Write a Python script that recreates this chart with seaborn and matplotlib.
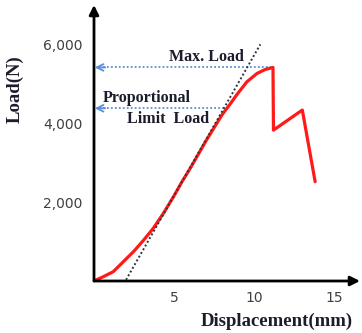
import numpy as np
import pandas as pd
import matplotlib
matplotlib.use("Agg")
import matplotlib.pyplot as plt
import seaborn as sns

# Load-displacement curve
DISPLACEMENT = [0.0, 0.58, 1.2, 1.83, 2.46, 3.08, 3.7, 4.33, 4.96, 5.5, 6.0, 7.0, 8.0, 8.5,
                8.92, 9.54, 10.17, 10.69, 11.17, 11.2, 13.0, 13.8]
LOAD = [0, 109, 236, 490, 744, 1030, 1340, 1720, 2141, 2530, 2860, 3570, 4230, 4500,
        4740, 5062, 5275, 5377, 5428, 3835, 4345, 2525]

# Proportional (elastic) fit line end points
FIT_X = [2.0, 10.38]
FIT_Y = [30, 6015]

MAX_LOAD = 5428
MAX_X = 11.17
PROP_LOAD = 4390
PROP_X = 8.3

X_TICKS = [5, 10, 15]
Y_TICKS = [2000, 4000, 6000]
Y_TICK_LABELS = ["2,000", "4,000", "6,000"]

SERIF = ["Liberation Serif", "DejaVu Serif"]
TEXT_COLOR = "#1c1c2c"
BLUE = "#5b8fd8"


def main():
    sns.set_theme(style="white")
    plt.rcParams['font.family'] = ['DejaVu Sans']

    fig = plt.figure(figsize=(3.62, 3.33), dpi=100)
    ax = fig.add_axes([94 / 362, 52 / 333, 266 / 362, 276 / 333])
    ax.set_xlim(0, 16.6)
    ax.set_ylim(0, 7015)

    df = pd.DataFrame({"Displacement": DISPLACEMENT, "Load": LOAD})
    sns.lineplot(data=df, x="Displacement", y="Load", sort=False, estimator=None,
                 color="#ff1a1a", linewidth=2.3, ax=ax, zorder=3)
    ax.plot(FIT_X, FIT_Y, color="#333333", linestyle=(0, (1, 1.2)), linewidth=1.4, zorder=4)

    # blue dotted guide arrows to the load axis
    for x_end, y in [(MAX_X, MAX_LOAD), (PROP_X, PROP_LOAD)]:
        ax.plot([0.3, x_end], [y, y], color=BLUE, linestyle=(0, (1, 1.2)), linewidth=1.3, zorder=2)
        ax.annotate("", xy=(0.05, y), xytext=(0.7, y),
                    arrowprops=dict(arrowstyle="->", color=BLUE, lw=1.3,
                                    mutation_scale=12, shrinkA=0, shrinkB=0))

    ax.text(7.0, 5690, "Max. Load", family=SERIF, fontweight="bold", fontsize=11.5,
            color=TEXT_COLOR, ha="center", va="center")
    ax.text(3.3, 4660, "Proportional", family=SERIF, fontweight="bold", fontsize=11.5,
            color=TEXT_COLOR, ha="center", va="center")
    ax.text(4.6, 4130, "Limit  Load", family=SERIF, fontweight="bold", fontsize=11.5,
            color=TEXT_COLOR, ha="center", va="center")

    # axes with arrow heads
    for s in ax.spines.values():
        s.set_visible(False)
    ax.annotate("", xy=(1.0, 0), xytext=(0, 0), xycoords="axes fraction",
                arrowprops=dict(arrowstyle="-|>", color="black", lw=2,
                                mutation_scale=14, shrinkA=0, shrinkB=0))
    ax.annotate("", xy=(0, 1.0), xytext=(0, 0), xycoords="axes fraction",
                arrowprops=dict(arrowstyle="-|>", color="black", lw=2,
                                mutation_scale=14, shrinkA=0, shrinkB=0))

    ax.set_xticks(X_TICKS)
    ax.set_yticks(Y_TICKS)
    ax.set_yticklabels(Y_TICK_LABELS)
    ax.tick_params(axis="both", direction="inout", length=11, width=1.6, color="black",
                   labelsize=10, labelcolor="#404040", pad=3)
    ax.tick_params(axis="x", pad=2)

    ax.set_xlabel("")
    ax.set_ylabel("")
    fig.text(277 / 362, 1 - 321 / 333, "Displacement(mm)", family=SERIF, fontweight="bold",
             fontsize=13.5, color=TEXT_COLOR, ha="center", va="center")
    fig.text(15 / 362, 1 - 89 / 333, "Load(N)", family=SERIF, fontweight="bold",
             fontsize=13.5, color=TEXT_COLOR, ha="center", va="center", rotation=90)

    fig.savefig("out.png", dpi=100)


if __name__ == "__main__":
    main()
